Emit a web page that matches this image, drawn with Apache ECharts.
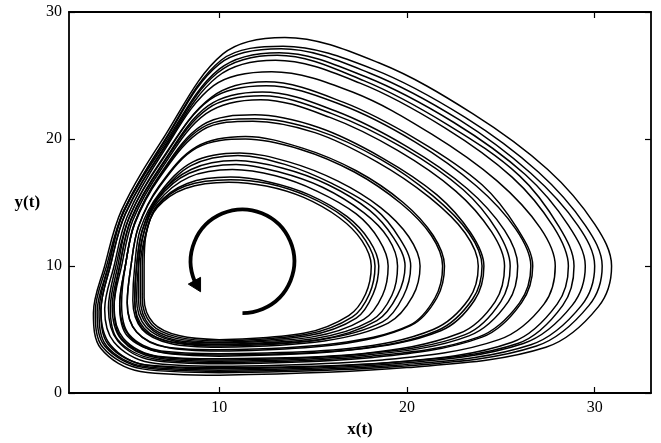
<!DOCTYPE html>
<html>
<head>
<meta charset="utf-8">
<script src="https://cdn.jsdelivr.net/npm/echarts@6/dist/echarts.min.js"></script>
<style>
html,body{margin:0;padding:0;background:#fff;}
#c{width:661px;height:443px;}
</style>
</head>
<body>
<div id="c"></div>
<script>
// Tick labels
const xTicks = [10, 20, 30];
const yTicks = [0, 10, 20, 30];

// Trajectory loops of (x(t), y(t)), largest to smallest
const loop01 = [[10,1.4],[20.0,2.0],[27.4,3.6],[30.2,6.8],[30.9,10],[30.0,13.3],[27.5,17.6],[23.5,22.0],[18.5,26.0],[13.5,28.0],[10.2,26.7],[7.0,20.0],[4.8,14.4],[3.9,10],[3.3,6.3],[3.7,3.5],[5.8,1.7]];
const loop02 = [[10,1.6],[19.7,2.1],[26.9,3.7],[29.7,6.9],[30.4,10],[29.5,13.2],[27.0,17.4],[23.1,21.7],[18.2,25.5],[13.4,27.3],[10.1,26.2],[7.0,19.7],[4.9,14.3],[4.0,10],[3.4,6.4],[3.8,3.6],[5.9,1.9]];
const loop03 = [[10,1.7],[19.6,2.2],[26.6,3.8],[29.3,6.9],[30.0,10],[29.1,13.2],[26.6,17.3],[22.8,21.5],[18.0,25.2],[13.3,27.1],[10.0,25.9],[7.0,19.6],[4.9,14.3],[4.1,10],[3.5,6.4],[3.9,3.7],[6.0,2.0]];
const loop04 = [[10,1.8],[19.4,2.3],[26.2,3.9],[28.8,6.9],[29.5,10],[28.6,13.2],[26.3,17.2],[22.5,21.3],[17.8,24.9],[13.2,26.8],[10.0,25.5],[7.0,19.4],[4.9,14.2],[4.1,10],[3.6,6.4],[4.0,3.7],[6.0,2.1]];
const loop05 = [[10,1.9],[19.2,2.4],[25.9,3.9],[28.3,6.9],[28.9,10],[28.1,13.1],[26.0,17.1],[22.2,21.1],[17.7,24.6],[13.1,26.6],[9.9,25.2],[7.0,19.2],[5.0,14.1],[4.2,10],[3.7,6.5],[4.1,3.8],[6.1,2.2]];
const loop06 = [[10,2.0],[19.1,2.4],[25.6,4.0],[28.0,7.0],[28.6,10],[27.8,13.1],[25.6,17.0],[22.0,20.9],[17.5,24.4],[13.0,26.2],[9.9,24.9],[7.0,19.1],[5.0,14.1],[4.2,10],[3.7,6.5],[4.2,3.8],[6.1,2.2]];
const loop07 = [[10,2.1],[18.7,2.6],[24.9,4.2],[27.3,7.0],[27.9,10],[27.1,13.0],[24.8,16.7],[21.3,20.4],[17.1,23.7],[12.8,25.3],[9.7,24.2],[6.9,18.7],[5.1,13.9],[4.4,10],[3.9,6.6],[4.4,4.0],[6.3,2.4]];
const loop08 = [[10,2.3],[18.2,2.8],[24.0,4.4],[26.1,7.1],[26.7,10],[25.9,12.9],[24.0,16.4],[20.6,19.9],[16.6,22.9],[12.5,24.5],[9.6,23.3],[6.9,18.3],[5.2,13.8],[4.5,10],[4.1,6.7],[4.6,4.1],[6.4,2.6]];
const loop09 = [[10,2.4],[18.1,2.9],[23.8,4.4],[26.0,7.1],[26.6,10],[25.8,12.9],[23.7,16.3],[20.4,19.8],[16.5,22.7],[12.5,24.2],[9.5,23.1],[6.9,18.2],[5.2,13.8],[4.6,10],[4.2,6.7],[4.6,4.2],[6.5,2.7]];
const loop10 = [[10,2.5],[17.9,3.0],[23.3,4.5],[25.4,7.2],[25.9,10],[25.2,12.8],[23.2,16.1],[20.0,19.4],[16.2,22.2],[12.3,23.7],[9.4,22.6],[6.9,17.9],[5.3,13.7],[4.7,10],[4.3,6.8],[4.8,4.2],[6.6,2.8]];
const loop11 = [[10,2.6],[17.8,3.1],[23.1,4.6],[25.0,7.2],[25.5,10],[24.8,12.8],[23.0,16.0],[19.8,19.3],[16.0,22.0],[12.3,23.4],[9.4,22.4],[6.9,17.8],[5.3,13.6],[4.7,10],[4.4,6.8],[4.8,4.3],[6.6,2.9]];
const loop12 = [[10,2.7],[17.6,3.1],[22.8,4.7],[24.7,7.2],[25.2,10],[24.5,12.7],[22.6,15.9],[19.5,19.1],[15.9,21.7],[12.2,23.1],[9.3,22.0],[6.9,17.6],[5.4,13.6],[4.8,10],[4.4,6.8],[4.9,4.3],[6.7,2.9]];
const loop13 = [[10,2.9],[17.1,3.4],[21.8,4.9],[23.6,7.3],[24.1,10],[23.4,12.6],[21.6,15.6],[18.7,18.5],[15.3,20.9],[11.9,21.9],[9.1,21.1],[6.8,17.1],[5.5,13.4],[5.0,10],[4.7,6.9],[5.1,4.5],[6.9,3.2]];
const loop14 = [[10,3.0],[17.0,3.4],[21.6,4.9],[23.5,7.4],[24.0,10],[23.3,12.6],[21.4,15.5],[18.6,18.4],[15.2,20.7],[11.9,21.6],[9.1,20.9],[6.8,17.0],[5.5,13.4],[5.0,10],[4.7,7.0],[5.2,4.5],[6.9,3.2]];
const loop15 = [[10,3.1],[16.9,3.5],[21.4,5.0],[23.3,7.4],[23.8,10],[23.1,12.6],[21.2,15.4],[18.4,18.2],[15.1,20.5],[11.8,21.4],[9.1,20.7],[6.8,16.9],[5.5,13.3],[5.0,10],[4.8,7.0],[5.2,4.6],[6.9,3.3]];
const loop16 = [[10,3.3],[16.2,3.8],[20.2,5.3],[21.6,7.5],[22.0,10],[21.4,12.4],[19.8,15.0],[17.3,17.5],[14.4,19.3],[11.4,20.2],[8.8,19.4],[6.8,16.3],[5.7,13.1],[5.3,10],[5.1,7.1],[5.6,4.8],[7.2,3.6]];
const loop17 = [[10,3.4],[16.2,3.9],[20.1,5.3],[21.5,7.5],[21.9,10],[21.3,12.4],[19.7,14.9],[17.2,17.4],[14.3,19.2],[11.4,20.0],[8.8,19.3],[6.8,16.2],[5.7,13.1],[5.3,10],[5.1,7.1],[5.6,4.8],[7.2,3.6]];
const loop18 = [[10,3.6],[15.6,4.1],[19.0,5.5],[20.3,7.6],[20.7,10],[20.1,12.3],[18.6,14.6],[16.3,16.7],[13.7,18.2],[11.1,18.9],[8.6,18.2],[6.8,15.7],[5.8,12.9],[5.5,10],[5.4,7.3],[5.9,5.0],[7.4,3.9]];
const loop19 = [[10,3.7],[15.4,4.2],[18.7,5.6],[19.8,7.6],[20.2,10],[19.6,12.2],[18.3,14.5],[16.0,16.5],[13.5,18.0],[11.0,18.7],[8.5,17.9],[6.8,15.5],[5.9,12.8],[5.6,10],[5.5,7.3],[5.9,5.1],[7.5,4.0]];
const loop20 = [[10,3.8],[15.3,4.2],[18.4,5.7],[19.5,7.7],[19.9,10],[19.3,12.2],[18.0,14.4],[15.8,16.4],[13.4,17.7],[10.9,18.3],[8.5,17.6],[6.7,15.4],[5.9,12.8],[5.6,10],[5.5,7.3],[6.0,5.1],[7.5,4.0]];
const loop21 = [[10,3.85],[15.1,4.3],[18.1,5.7],[19.2,7.7],[19.5,10],[19.0,12.2],[17.7,14.2],[15.5,16.2],[13.2,17.4],[10.9,18.0],[8.4,17.3],[6.7,15.2],[6.0,12.7],[5.7,10],[5.6,7.4],[6.1,5.2],[7.6,4.1]];
const loop22 = [[10,3.95],[14.9,4.4],[17.7,5.8],[18.7,7.7],[19.0,10],[18.5,12.1],[17.3,14.1],[15.2,15.9],[13.0,17.1],[10.7,17.6],[8.4,17.0],[6.7,15.0],[6.0,12.7],[5.7,10],[5.7,7.4],[6.2,5.3],[7.6,4.2]];
const loop23 = [[10,4.0],[14.7,4.5],[17.3,5.9],[18.2,7.8],[18.5,10],[18.0,12.0],[16.8,13.9],[14.8,15.6],[12.7,16.6],[10.6,17.0],[8.3,16.5],[6.7,14.8],[6.1,12.6],[5.8,10],[5.8,7.5],[6.3,5.3],[7.7,4.3]];
const loop24 = [[10,4.1],[14.6,4.6],[17.1,6.0],[18.0,7.8],[18.3,10],[17.8,12.0],[16.6,13.9],[14.7,15.5],[12.6,16.5],[10.6,16.8],[8.2,16.3],[6.7,14.7],[6.1,12.5],[5.9,10],[5.9,7.5],[6.4,5.4],[7.8,4.4]];
const loop25 = [[10,4.2],[14.5,4.7],[16.9,6.1],[17.8,7.8],[18.1,10],[17.6,12.0],[16.4,13.8],[14.5,15.4],[12.5,16.3],[10.5,16.6],[8.2,16.1],[6.7,14.6],[6.1,12.5],[6.0,10],[6.0,7.5],[6.5,5.5],[7.9,4.5]];

// Rotation-direction arrow annotation (centre in data units, radius in x units)
const arrowCenter = [11.24, 10.37];
const arrowRadiusX = 2.76;

const loops = [loop01,loop02,loop03,loop04,loop05,loop06,loop07,loop08,loop09,loop10,loop11,loop12,loop13,loop14,loop15,loop16,loop17,loop18,loop19,loop20,loop21,loop22,loop23,loop24,loop25];

const serif = 'Liberation Serif';
const chart = echarts.init(document.getElementById('c'), null, {renderer: 'canvas'});

const axisLine = {show: true, onZero: false, lineStyle: {color: '#000', width: 1.8}};
const tickStyle = {color: '#000', width: 1.2};

const option = {
  animation: false,
  backgroundColor: '#fff',
  grid: {left: 69, top: 12, right: 10, bottom: 45, containLabel: false},
  xAxis: [
    {
      type: 'value', min: 2, max: 33, position: 'bottom',
      axisLine: axisLine,
      axisTick: {show: true, inside: true, length: 6, customValues: xTicks, lineStyle: tickStyle},
      axisLabel: {show: true, customValues: xTicks, color: '#000', fontFamily: serif, fontSize: 16, margin: 7},
      splitLine: {show: false},
      name: 'x(t)', nameLocation: 'middle', nameGap: 28,
      nameTextStyle: {color: '#000', fontFamily: serif, fontSize: 17, fontWeight: 'bold'}
    },
    {
      type: 'value', min: 2, max: 33, position: 'top',
      axisLine: axisLine,
      axisTick: {show: true, inside: true, length: 6, customValues: xTicks, lineStyle: tickStyle},
      axisLabel: {show: false},
      splitLine: {show: false}
    }
  ],
  yAxis: [
    {
      type: 'value', min: 0, max: 30, interval: 10, position: 'left',
      axisLine: axisLine,
      axisTick: {show: true, inside: true, length: 6, customValues: yTicks, lineStyle: tickStyle},
      axisLabel: {show: true, customValues: yTicks, color: '#000', fontFamily: serif, fontSize: 16, margin: 7},
      splitLine: {show: false},
      name: 'y(t)', nameLocation: 'middle', nameRotate: 0, nameGap: 26,
      nameTextStyle: {color: '#000', fontFamily: serif, fontSize: 17, fontWeight: 'bold'}
    },
    {
      type: 'value', min: 0, max: 30, interval: 10, position: 'right',
      axisLine: axisLine,
      axisTick: {show: true, inside: true, length: 6, customValues: yTicks, lineStyle: tickStyle},
      axisLabel: {show: false},
      splitLine: {show: false}
    }
  ],
  series: loops.map(function (l) {
    return {
      type: 'line', xAxisIndex: 0, yAxisIndex: 0,
      data: l.concat([l[0]]),
      smooth: 0.35,
      symbol: 'none', showSymbol: false, silent: true,
      lineStyle: {color: '#000', width: 1.5}
    };
  })
};
chart.setOption(option);

// Arrow: thick arc with arrowhead, positioned through the axes' scales
const c = chart.convertToPixel({xAxisIndex: 0, yAxisIndex: 0}, arrowCenter);
const r = chart.convertToPixel({xAxisIndex: 0, yAxisIndex: 0}, [arrowCenter[0] + arrowRadiusX, arrowCenter[1]])[0] - c[0];
const deg = Math.PI / 180;
const baseA = 158 * deg, tipA = 144 * deg;
const base = [c[0] + r * Math.cos(baseA), c[1] + r * Math.sin(baseA)];
const tip = [c[0] + r * Math.cos(tipA), c[1] + r * Math.sin(tipA)];
const dx = tip[0] - base[0], dy = tip[1] - base[1];
const len = Math.sqrt(dx * dx + dy * dy);
const nx = -dy / len, ny = dx / len;
const hw = 7;
chart.setOption({
  graphic: [
    {
      type: 'arc', silent: true,
      shape: {cx: c[0], cy: c[1], r: r, startAngle: 157 * deg, endAngle: 450 * deg, clockwise: true},
      style: {stroke: '#000', fill: 'none', lineWidth: 3.8}
    },
    {
      type: 'polygon', silent: true,
      shape: {points: [[base[0] + nx * hw, base[1] + ny * hw], tip, [base[0] - nx * hw, base[1] - ny * hw]]},
      style: {fill: '#000', stroke: '#000', lineWidth: 1}
    }
  ]
});
</script>
</body>
</html>
